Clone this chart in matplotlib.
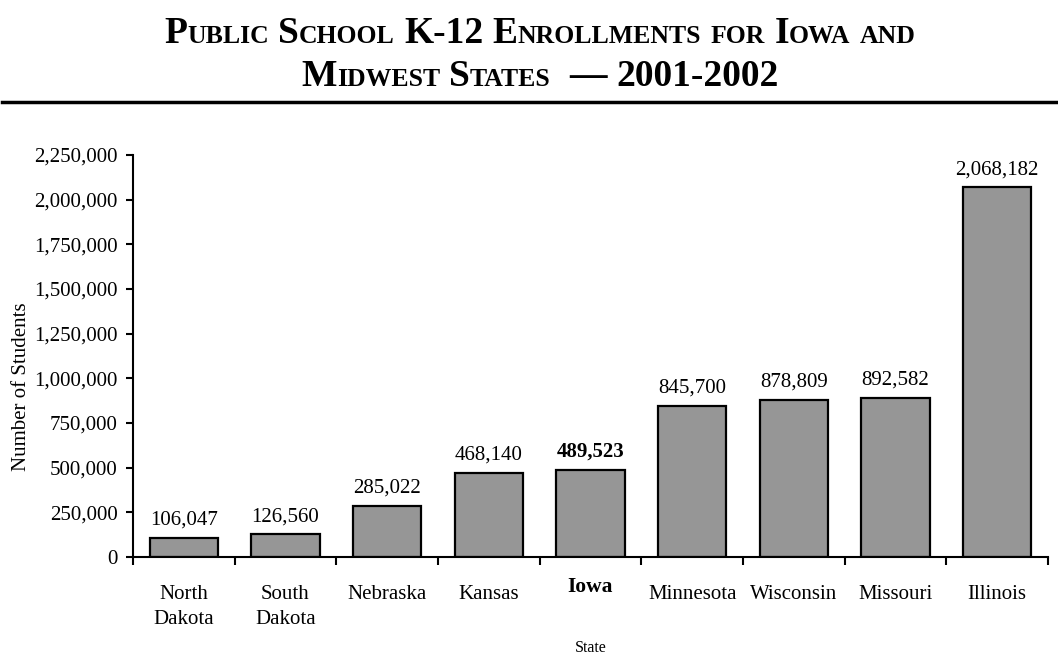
import matplotlib
matplotlib.use('Agg')
import matplotlib.pyplot as plt
from matplotlib.ticker import FuncFormatter
from matplotlib.lines import Line2D

states = ['North\nDakota', 'South\nDakota', 'Nebraska', 'Kansas', 'Iowa',
          'Minnesota', 'Wisconsin', 'Missouri', 'Illinois']
enrollments = [106047, 126560, 285022, 468140, 489523, 845700, 878809, 892582, 2068182]
highlight = 'Iowa'
y_ticks = [0, 250000, 500000, 750000, 1000000, 1250000, 1500000, 1750000, 2000000, 2250000]

# title in small caps: (text, big?) pieces per word
title_line1 = [[('P', 1), ('UBLIC', 0)], [('S', 1), ('CHOOL', 0)], [('K-12', 1)],
               [('E', 1), ('NROLLMENTS', 0)], [('FOR', 0)], [('I', 1), ('OWA', 0)], [('AND', 0)]]
title_line2 = [[('M', 1), ('IDWEST', 0)], [('S', 1), ('TATES', 0)], [('', 0)], [('\u2014', 1)], [('2001-2002', 1)]]

SERIF = 'Liberation Serif'
plt.rcParams['font.family'] = SERIF

fig = plt.figure(figsize=(10.58, 6.71), dpi=100)
ax = fig.add_axes([0.1257, 0.1699, 0.8648, 0.5991])

x = list(range(len(states)))
ax.bar(x, enrollments, width=0.67, color='#969696', edgecolor='black', linewidth=1.6, zorder=2)

for xi, v, s in zip(x, enrollments, states):
    bold = s == highlight
    ax.annotate(f'{v:,}', (xi, v), xytext=(0, 6), textcoords='offset points',
                ha='center', va='bottom', fontsize=15,
                fontweight='bold' if bold else 'normal')

ax.set_xlim(-0.5, len(states) - 0.5)
ax.set_ylim(0, 2250000)
ax.set_yticks(y_ticks)
ax.yaxis.set_major_formatter(FuncFormatter(lambda v, p: f'{int(v):,}'))
ax.tick_params(axis='y', labelsize=15, length=5, width=1.5, direction='out', pad=6)

# ticks between categories, labels at centres
ax.set_xticks([i + 0.5 for i in range(-1, len(states))])
ax.set_xticklabels([])
ax.tick_params(axis='x', which='major', length=6, width=1.5, direction='out')
ax.set_xticks(x, minor=True)
ax.set_xticklabels(states, minor=True, fontsize=15, linespacing=1.45, va='top')
ax.tick_params(axis='x', which='minor', length=0, pad=20)
for lbl in ax.get_xticklabels(minor=True):
    if lbl.get_text() == highlight:
        lbl.set_fontweight('bold')
        lbl.set_fontsize(15.5)
        lbl.set_y(0.02)

for side in ('top', 'right'):
    ax.spines[side].set_visible(False)
for side in ('left', 'bottom'):
    ax.spines[side].set_linewidth(1.5)

ax.set_ylabel('Number of Students', fontsize=15)
ax.yaxis.set_label_coords(-0.112, 0.423)
ax.set_xlabel('State', fontsize=11.5, labelpad=8)


def small_caps_line(words, y_px, x_center_px, big=27, small=18.5):
    r = fig.canvas.get_renderer()
    W, H = fig.bbox.width, fig.bbox.height
    gap = 0.25 * big * fig.dpi / 72
    texts = []
    total = 0
    for wi, word in enumerate(words):
        if wi > 0:
            total += gap
        for s, is_big in word:
            if not s:
                continue
            t = fig.text(0, 1 - y_px / H, s, fontsize=big if is_big else small,
                         fontweight='bold', ha='left', va='baseline')
            w = t.get_window_extent(r).width
            texts.append((t, total))
            total += w
    x0 = x_center_px - total / 2
    for t, off in texts:
        t.set_x((x0 + off) / W)


small_caps_line(title_line1, 43, 540)
small_caps_line(title_line2, 86, 540)
fig.add_artist(Line2D([0.002, 1.0], [1 - 102 / 671, 1 - 102 / 671], color='black', lw=2.5))

fig.savefig('out.png', dpi=100)
